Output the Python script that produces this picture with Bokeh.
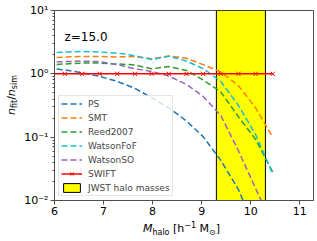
import math
from bokeh.plotting import figure
from bokeh.models import Range1d, FixedTicker, Legend, LegendItem, Label, Div
from bokeh.layouts import row, column
from bokeh.embed import file_html
from bokeh.resources import INLINE

# ---------------- data ----------------
log_mass = [5.86, 6.21, 6.56, 6.92, 7.28, 7.64, 7.98, 8.33, 8.69, 9.03, 9.39, 9.75, 10.10, 10.45]
ps = [1.23, 1.15, 1.04, 0.91, 0.76, 0.59, 0.42, 0.29, 0.18, 0.102, 0.043, 0.0149, 0.0033, 0.0005]
smt = [1.79, 1.84, 1.88, 1.88, 1.85, 1.87, 1.73, 1.91, 1.76, 1.40, 1.07, 0.65, 0.29, 0.10]
reed2007 = [1.38, 1.43, 1.48, 1.48, 1.43, 1.38, 1.20, 1.30, 1.13, 0.80, 0.52, 0.21, 0.092, 0.028]
watson_fof = [2.13, 2.21, 2.25, 2.21, 2.13, 1.93, 1.68, 1.90, 1.59, 1.21, 0.76, 0.316, 0.11, 0.026]
watson_so = [1.54, 1.56, 1.59, 1.56, 1.40, 1.20, 1.09, 0.92, 0.68, 0.44, 0.22, 0.061, 0.0155, 0.004]
swift = [1.0, 1.0, 1.0, 1.0, 1.0, 1.0, 1.0, 1.0, 1.0, 1.0, 1.0, 1.0, 1.0, 1.0]
jwst_mass_range = [9.3, 10.3]
redshift_text = "z=15.0"

series_names = ["PS", "SMT", "Reed2007", "WatsonFoF", "WatsonSO"]
series_colors = ["#1f77b4", "#ff7f0e", "#2ca02c", "#17becf", "#9467bd"]
series_values = [ps, smt, reed2007, watson_fof, watson_so]

x_lim = [6.0, 11.28]
y_lim = [0.01, 10.0]
x_ticks = [6, 7, 8, 9, 10, 11]
y_ticks = [0.01, 0.1, 1.0, 10.0]
y_tick_labels = ["10\u207b\u00b2", "10\u207b\u00b9", "10\u2070", "10\u00b9"]

FONT = "DejaVu Sans"
AX = "#4d4d4d"
YLAB_W = 21

p = figure(x_range=Range1d(x_lim[0], x_lim[1]), y_range=Range1d(y_lim[0], y_lim[1]),
           y_axis_type="log", frame_width=259, frame_height=190,
           min_border_left=53 - YLAB_W, min_border_right=5, min_border_top=10,
           min_border_bottom=20, output_backend="svg", toolbar_location=None, margin=0)
p.xgrid.visible = False
p.ygrid.visible = False
p.outline_line_color = AX
p.outline_line_width = 1
p.background_fill_color = "white"
p.border_fill_color = "white"

p.xaxis.ticker = FixedTicker(ticks=x_ticks, minor_ticks=[])
minor = [m * 10.0 ** k for k in range(-2, 1) for m in range(2, 10)]
p.yaxis.ticker = FixedTicker(ticks=y_ticks, minor_ticks=minor)
p.yaxis.major_label_overrides = dict(zip(y_ticks, y_tick_labels))
for ax in (p.xaxis, p.yaxis):
    ax.axis_line_color = AX
    ax.major_tick_line_color = AX
    ax.minor_tick_line_color = AX
    ax.major_tick_in = 0
    ax.major_tick_out = 4
    ax.minor_tick_in = 0
    ax.minor_tick_out = 2
    ax.major_label_text_font = FONT
    ax.major_label_text_font_size = "11px"
    ax.major_label_text_color = "black"
    ax.major_label_standoff = 2

# JWST band
band = p.quad(left=[jwst_mass_range[0]], right=[jwst_mass_range[1]],
              bottom=[y_lim[0]], top=[y_lim[1]], fill_color="#ffff00", fill_alpha=1.0,
              line_color="black", line_width=1)

items = []
for name, vals, col in zip(series_names, series_values, series_colors):
    r = p.line(log_mass, vals, line_color=col, line_width=1.5, line_dash="6 3")
    items.append(LegendItem(label=name, renderers=[r]))

sl = p.line(log_mass, swift, line_color="red", line_width=1.5)
ss = p.scatter(log_mass, swift, marker="x", size=6, line_color="red", line_width=1)
items.append(LegendItem(label="SWIFT", renderers=[sl, ss]))
items.append(LegendItem(label="JWST halo masses", renderers=[band]))

legend = Legend(items=items, location="bottom_left", margin=4, padding=2, spacing=3,
                label_height=11, glyph_height=11, glyph_width=21, label_standoff=6,
                label_text_font=FONT, label_text_font_size="9px",
                border_line_color="#cccccc", border_line_width=1,
                background_fill_color="white", background_fill_alpha=0.8)
p.add_layout(legend)

# redshift annotation inside the frame (top-left), placed via the frame's scales
FL, FR, FT, FB = 53.0, 312.0, 10.0, 200.0


def px_x(px):
    return x_lim[0] + (px - FL) * (x_lim[1] - x_lim[0]) / (FR - FL)


def px_y(py):
    l0, l1 = math.log10(y_lim[0]), math.log10(y_lim[1])
    return 10 ** (l1 - (py - FT) * (l1 - l0) / (FB - FT))


p.add_layout(Label(x=px_x(63), y=px_y(36), text=redshift_text, text_font=FONT,
                   text_font_size="12px", text_align="left", text_baseline="alphabetic",
                   text_color="black"))

# ---- axis labels as HTML text (real text with sub/superscripts) ----
base = f"font-family:'{FONT}';font-size:11px;line-height:1;color:black;white-space:nowrap;"
sub = "font-size:8px;line-height:0;vertical-align:-2.5px;"
sup = "font-size:8px;line-height:0;vertical-align:4.5px;"

xlabel_html = (
    f'<div style="position:relative;width:296px;height:21px;">'
    f'<div style="position:absolute;left:160.5px;top:3px;transform:translateX(-50%);{base}">'
    f'<i>M</i><span style="{sub}">halo</span> [h<span style="{sup}">\u22121</span> '
    f'M<span style="{sub}">\u2299</span>]</div></div>'
)
ylabel_html = (
    f'<div style="position:relative;width:{YLAB_W}px;height:241px;">'
    f'<div style="position:absolute;left:10.5px;top:94.5px;'
    f'transform:translate(-50%,-50%) rotate(-90deg);{base}">'
    f'<i>n</i><span style="{sub}">fit</span>/<i>n</i><span style="{sub}">sim</span>'
    f'</div></div>'
)

xlabel = Div(text=xlabel_html, width=296, height=21, margin=0)
ylabel = Div(text=ylabel_html, width=YLAB_W, height=241, margin=0)

layout = row(ylabel, column(p, xlabel, spacing=0, margin=0), spacing=0, margin=0)

open("out.html", "w").write(file_html(layout, INLINE))
